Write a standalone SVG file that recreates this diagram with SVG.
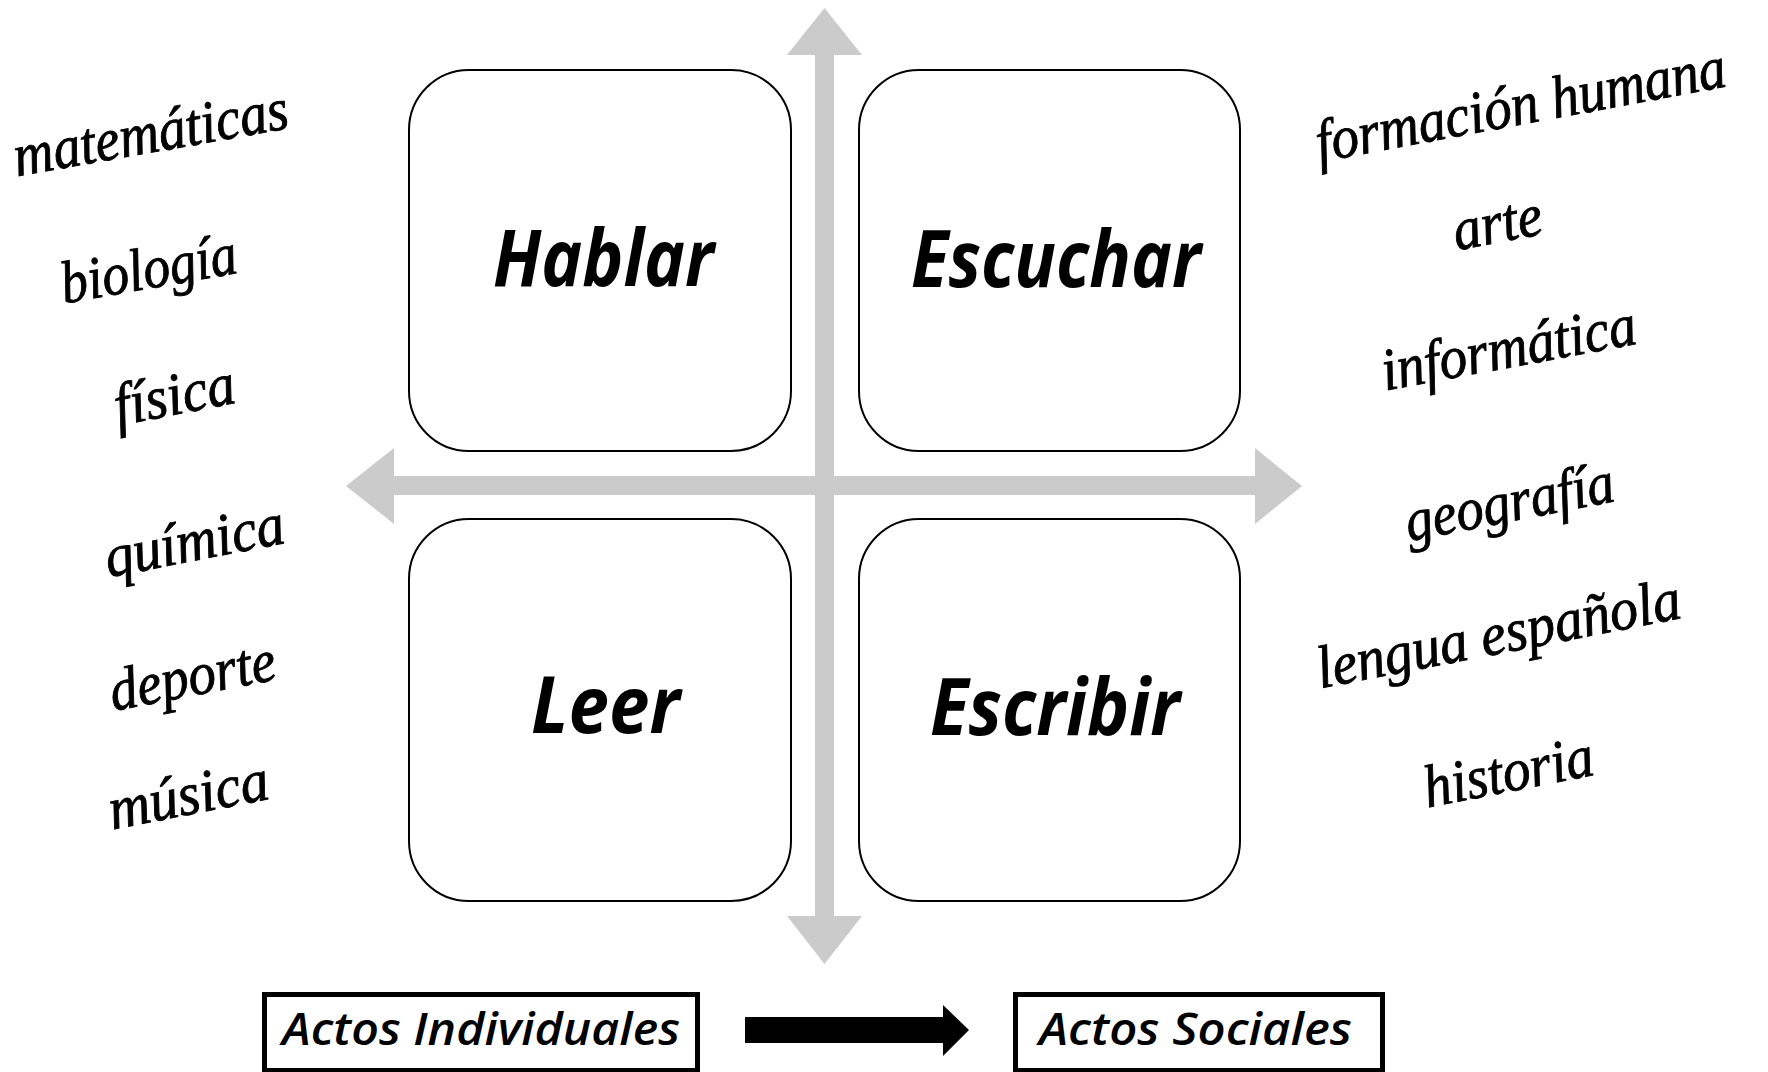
<svg xmlns="http://www.w3.org/2000/svg" width="1768" height="1072" viewBox="0 0 1768 1072">
<style>
.axis{fill:#cbcbcb}
.box{fill:#ffffff;stroke:#000000;stroke-width:2}
.lbl{font-family:"Open Sans","Noto Sans","DejaVu Sans",sans-serif;font-weight:700;font-style:italic;font-size:78px;fill:#000000}
.act{fill:#ffffff;stroke:#000000;stroke-width:5}
.actt{font-family:"Open Sans","Noto Sans","DejaVu Sans",sans-serif;font-weight:600;font-style:italic;font-size:46px;fill:#000000}
.scr{font-family:"Liberation Serif","DejaVu Serif",serif;font-style:italic;font-size:60px;fill:#000000;stroke:#000000;stroke-width:0.9;text-anchor:middle}
</style>
<rect width="1768" height="1072" fill="#ffffff"/>
<g id="connectors">
<polygon class="axis" points="824.5,8 862,55 834,55 834,916 862,916 824.5,964 787,916 815,916 815,55 787,55"/>
<polygon class="axis" points="346,486 394,448 394,476 1255,476 1255,448 1302,486 1255,524 1255,495 394,495 394,524"/>
<polygon fill="#000000" points="745,1017 943,1017 943,1005 969,1030 943,1056 943,1043 745,1043"/>
</g>
<g id="hablar">
<rect class="box" x="409" y="70" width="382" height="381" rx="60" ry="60"/>
<text class="lbl" x="493" y="286" textLength="221" lengthAdjust="spacingAndGlyphs">Hablar</text>
</g>
<g id="escuchar">
<rect class="box" x="859" y="70" width="381" height="381" rx="60" ry="60"/>
<text class="lbl" x="911" y="287" textLength="290" lengthAdjust="spacingAndGlyphs">Escuchar</text>
</g>
<g id="leer">
<rect class="box" x="409" y="519" width="382" height="382" rx="60" ry="60"/>
<text class="lbl" x="531" y="733" textLength="149" lengthAdjust="spacingAndGlyphs">Leer</text>
</g>
<g id="escribir">
<rect class="box" x="859" y="519" width="381" height="382" rx="60" ry="60"/>
<text class="lbl" x="930" y="735" textLength="250" lengthAdjust="spacingAndGlyphs">Escribir</text>
</g>
<g id="actos-individuales">
<rect class="act" x="264.5" y="994.5" width="433" height="76"/>
<text class="actt" x="282" y="1045" textLength="398" lengthAdjust="spacingAndGlyphs">Actos Individuales</text>
</g>
<g id="actos-sociales">
<rect class="act" x="1015.5" y="994.5" width="367" height="76"/>
<text class="actt" x="1039" y="1045" textLength="313" lengthAdjust="spacingAndGlyphs">Actos Sociales</text>
</g>
<g id="materias-izquierda">
<text class="scr" transform="translate(154,152) rotate(-10)" textLength="278" lengthAdjust="spacingAndGlyphs">matemáticas</text>
<text class="scr" transform="translate(152,288) rotate(-10)" textLength="178" lengthAdjust="spacingAndGlyphs">biología</text>
<text class="scr" transform="translate(178,414) rotate(-11)" textLength="122" lengthAdjust="spacingAndGlyphs">física</text>
<text class="scr" transform="translate(198,560) rotate(-11)" textLength="182" lengthAdjust="spacingAndGlyphs">química</text>
<text class="scr" transform="translate(196,695) rotate(-11)" textLength="168" lengthAdjust="spacingAndGlyphs">deporte</text>
<text class="scr" transform="translate(192,814) rotate(-11)" textLength="162" lengthAdjust="spacingAndGlyphs">música</text>
</g>
<g id="materias-derecha">
<text class="scr" transform="translate(1524,124) rotate(-10.5)" textLength="416" lengthAdjust="spacingAndGlyphs">formación humana</text>
<text class="scr" transform="translate(1501,242) rotate(-11)" textLength="90" lengthAdjust="spacingAndGlyphs">arte</text>
<text class="scr" transform="translate(1512,367) rotate(-10.5)" textLength="258" lengthAdjust="spacingAndGlyphs">informática</text>
<text class="scr" transform="translate(1513,521) rotate(-11)" textLength="212" lengthAdjust="spacingAndGlyphs">geografía</text>
<text class="scr" transform="translate(1502,653) rotate(-11)" textLength="370" lengthAdjust="spacingAndGlyphs">lengua española</text>
<text class="scr" transform="translate(1512,791) rotate(-11)" textLength="172" lengthAdjust="spacingAndGlyphs">historia</text>
</g>
</svg>
